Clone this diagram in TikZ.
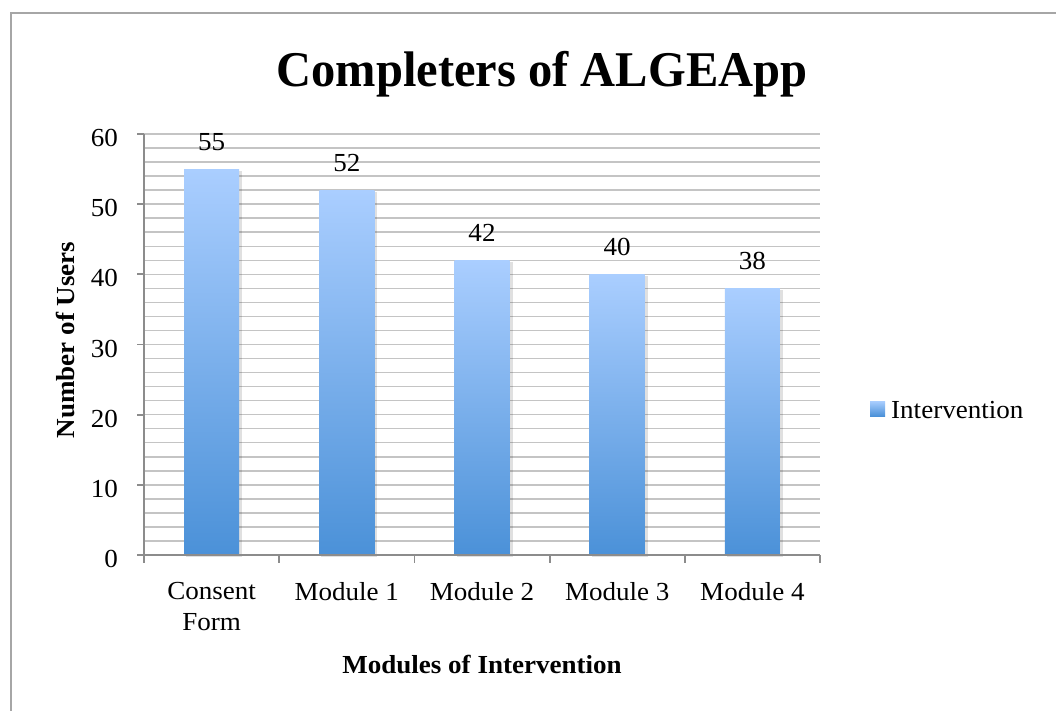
\documentclass[tikz,border=0pt]{standalone}
\usepackage{fontspec}
\setmainfont[FakeStretch=1.04]{Liberation Serif}
\newfontfamily\titlefont[FakeStretch=0.97]{Liberation Serif}
\definecolor{framec}{HTML}{A6A6A6}
\definecolor{axisc}{HTML}{8C8C8C}
\definecolor{gridc}{HTML}{C4C4C4}
\definecolor{bartop}{HTML}{AACEFF}
\definecolor{barbot}{HTML}{4B91D8}
\begin{document}
\begin{tikzpicture}[x=1pt,y=-1pt,
  lbl/.style={font=\fontsize{26}{31}\selectfont, inner sep=0pt},
  blbl/.style={font=\fontsize{26}{31}\selectfont\bfseries, inner sep=0pt},
  barfill/.style={top color=bartop,bottom color=barbot,draw=none},
  gridline/.style={draw=gridc,line width=1.5pt},
  axisline/.style={draw=axisc,line width=1.8pt}]
\useasboundingbox (0,0) rectangle (1056,711);
\fill[white] (0,0) rectangle (1056,711);
\draw[framec,line width=2pt] (10.5,711) -- (10.5,13) -- (1056,13);
% title
\node[inner sep=0pt,anchor=base,font=\titlefont\fontsize{50}{60}\selectfont\bfseries] (title) at (542,87) {Completers of ALGEApp};
% gridlines
\foreach \k in {1,...,30}
  \draw[gridline] (144,{555-\k*14.0333}) -- (820,{555-\k*14.0333});
% bars
\foreach \v/\i [count=\n] in {55/0,52/1,42/2,40/3,38/4}{
  \pgfmathsetmacro\cx{211.6+\i*135.2}
  \pgfmathsetmacro\ty{555-\v*7.0167}
  \fill[black,opacity=0.12] (\cx-27.5+2,\ty+2) rectangle (\cx+27.5+3,557);
  \shade[barfill] (\cx-27.5,\ty) rectangle (\cx+27.5,555);
  \node[lbl,anchor=base] (val\n) at (\cx,\ty-19) {\v};
}
% axes
\draw[axisline] (144,134) -- (144,555);
\foreach \k in {0,...,6}{
  \draw[axisline] (137,{555-\k*70.167}) -- (144,{555-\k*70.167});
  \pgfmathtruncatemacro\lab{\k*10}
  \node[lbl,anchor=base east] (yt\k) at (118,{555-\k*70.167+12.5}) {\lab};
}
\draw[axisline] (137,555) -- (820,555);
\foreach \i in {0,...,5}
  \draw[axisline] ({144+\i*135.2},555) -- ({144+\i*135.2},563);
% category labels
\node[lbl,anchor=north,align=center] (c1) at (211.6,582) {Consent\\Form};
\node[lbl,anchor=north] (c2) at (346.8,582) {Module 1};
\node[lbl,anchor=north] (c3) at (482.0,582) {Module 2};
\node[lbl,anchor=north] (c4) at (617.2,582) {Module 3};
\node[lbl,anchor=north] (c5) at (752.4,582) {Module 4};
% axis titles
\node[blbl,anchor=base] (xtitle) at (482,673) {Modules of Intervention};
\node[blbl,rotate=90] (ytitle) at (66,340) {Number of Users};
% legend
\shade[barfill] (870,401) rectangle (885,416);
\node[lbl,anchor=base west] (leg) at (891,418) {Intervention};
\end{tikzpicture}
\end{document}
